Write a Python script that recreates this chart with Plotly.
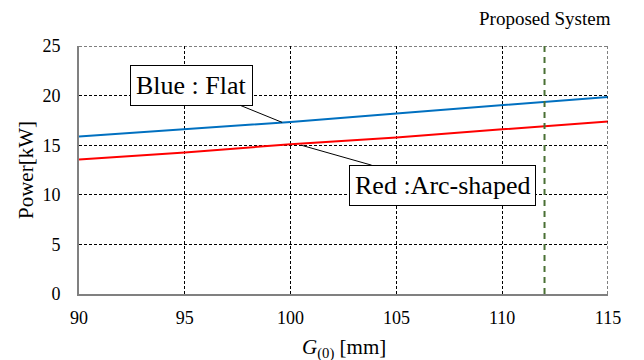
import plotly.graph_objects as go

gap = [90, 95, 100, 105, 110, 112, 115]
blue_flat = [15.88, 16.6, 17.35, 18.2, 19.03, 19.37, 19.87]
red_arc = [13.56, 14.27, 15.1, 15.78, 16.6, 16.9, 17.39]
proposed_x = 112
x_ticks = [90, 95, 100, 105, 110, 115]
y_ticks = [0, 5, 10, 15, 20, 25]

FONT = "Liberation Serif"
GRID_DASH = "3px,2px"

fig = go.Figure()
fig.add_trace(go.Scatter(x=gap, y=blue_flat, mode="lines",
                         line=dict(color="#0070C0", width=2), showlegend=False))
fig.add_trace(go.Scatter(x=gap, y=red_arc, mode="lines",
                         line=dict(color="#FF0000", width=2), showlegend=False))

# top and right dotted frame
fig.add_shape(type="line", xref="x", yref="y", x0=90, x1=115, y0=25, y1=25,
              line=dict(color="black", width=1, dash=GRID_DASH))
fig.add_shape(type="line", xref="x", yref="y", x0=115, x1=115, y0=0, y1=25,
              line=dict(color="black", width=1, dash=GRID_DASH))

# proposed system line
fig.add_shape(type="line", xref="x", yref="y", x0=proposed_x, x1=proposed_x,
              y0=0, y1=26.5, line=dict(color="#4A7034", width=2, dash="6px,5px"))
fig.add_annotation(x=proposed_x, y=1.0, xref="x", yref="paper", yshift=28,
                   yanchor="middle", xanchor="center",
                   text="Proposed System", showarrow=False,
                   font=dict(family=FONT, size=19, color="black"))

fig.add_annotation(x=99.6, y=17.3, ax=-91, ay=-37, xref="x", yref="y",
                   axref="pixel", ayref="pixel",
                   text="Blue : Flat", showarrow=True, arrowhead=0,
                   arrowwidth=1, arrowcolor="black", standoff=0,
                   bordercolor="black", borderwidth=1, bgcolor="white",
                   borderpad=5,
                   font=dict(family=FONT, size=26, color="black"))
fig.add_annotation(x=100.5, y=15.0, ax=141, ay=40, xref="x", yref="y",
                   axref="pixel", ayref="pixel",
                   text="Red :Arc-shaped", showarrow=True, arrowhead=0,
                   arrowwidth=1, arrowcolor="black",
                   bordercolor="black", borderwidth=1, bgcolor="white",
                   borderpad=5,
                   font=dict(family=FONT, size=26, color="black"))

# axis titles
fig.add_annotation(x=0.5, y=0, xref="paper", yref="paper", yshift=-54,
                   yanchor="middle", xanchor="center",
                   text="<i>G</i><sub>(0)</sub> [mm]", showarrow=False,
                   font=dict(family=FONT, size=21, color="black"))
fig.add_annotation(x=0, y=0.5, xref="paper", yref="paper", xshift=-53,
                   yanchor="middle", xanchor="center",
                   text="Power[kW]", showarrow=False, textangle=-90,
                   font=dict(family=FONT, size=21, color="black"))

fig.update_layout(
    width=644, height=360,
    margin=dict(l=71, r=44, t=38, b=74),
    plot_bgcolor="white", paper_bgcolor="white",
    font=dict(family=FONT, size=16, color="black"),
    xaxis=dict(range=[90, 115], tickvals=x_ticks, showgrid=True,
               gridcolor="black", griddash=GRID_DASH, gridwidth=1,
               showline=True, linecolor="#808080", linewidth=2,
               ticks="outside", ticklen=6, tickcolor="rgba(0,0,0,0)",
               zeroline=False, automargin=False,
               tickfont=dict(family=FONT, size=18, color="black")),
    yaxis=dict(range=[0, 25], tickvals=y_ticks, showgrid=True,
               gridcolor="black", griddash=GRID_DASH, gridwidth=1,
               showline=True, linecolor="#808080", linewidth=2,
               ticks="outside", ticklen=13, tickcolor="rgba(0,0,0,0)",
               zeroline=False, automargin=False,
               tickfont=dict(family=FONT, size=18, color="black")),
)

fig.write_html("out.html")
